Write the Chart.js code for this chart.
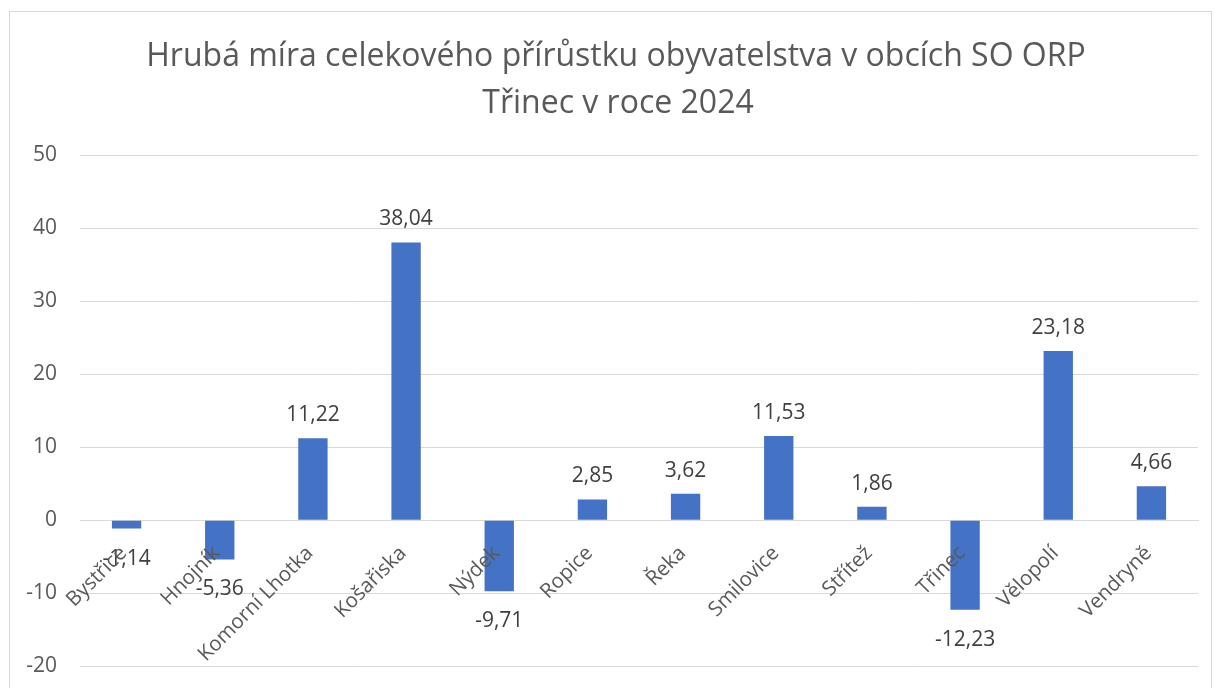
<!DOCTYPE html>
<html><head><meta charset="utf-8">
<script src="https://cdn.jsdelivr.net/npm/chart.js@4.4.1/dist/chart.umd.min.js"></script>
<style>
html,body{margin:0;padding:0;background:#fff;width:1215px;height:688px;overflow:hidden;}
#frame{position:absolute;left:9px;top:11px;width:1203px;height:700px;border:1px solid #d9d9d9;box-sizing:border-box;}
#wrap{position:absolute;left:0;top:0;width:1215px;height:688px;overflow:hidden;}
</style></head>
<body>
<div id="frame"></div>
<div id="wrap"><canvas id="c" width="1215" height="702"></canvas></div>
<script>
const titleLines = ["Hrubá míra celekového přírůstku obyvatelstva v obcích SO ORP", "Třinec v roce 2024"];
const categories = ["Bystřice", "Hnojník", "Komorní Lhotka", "Košařiska", "Nýdek", "Ropice", "Řeka", "Smilovice", "Střítež", "Třinec", "Vělopolí", "Vendryně"];
const values = [-1.14, -5.36, 11.22, 38.04, -9.71, 2.85, 3.62, 11.53, 1.86, -12.23, 23.18, 4.66];
const yTickValues = [-20, -10, 0, 10, 20, 30, 40, 50];

const FONT = "'Open Sans', 'Noto Sans', sans-serif";

const chartTitle = {
  id: 'chartTitle',
  afterDraw(chart) {
    const ctx = chart.ctx;
    ctx.save();
    ctx.font = "32px " + FONT;
    ctx.fillStyle = '#595959';
    ctx.textAlign = 'center';
    ctx.textBaseline = 'alphabetic';
    ctx.fillText(titleLines[0], 616, 66);
    ctx.fillText(titleLines[1], 618, 113);
    ctx.restore();
  }
};

const valueLabels = {
  id: 'valueLabels',
  afterDatasetsDraw(chart) {
    const ctx = chart.ctx;
    const meta = chart.getDatasetMeta(0);
    ctx.save();
    ctx.font = "21px " + FONT;
    ctx.fillStyle = '#404040';
    ctx.textAlign = 'center';
    ctx.textBaseline = 'alphabetic';
    meta.data.forEach((bar, i) => {
      const v = values[i];
      const txt = v.toFixed(2).replace('.', ',');
      if (v >= 0) ctx.fillText(txt, bar.x, bar.y - 17);
      else ctx.fillText(txt, bar.x, bar.y + 36);
    });
    ctx.restore();
  }
};

new Chart(document.getElementById('c'), {
  type: 'bar',
  data: {
    labels: categories,
    datasets: [{
      data: values,
      backgroundColor: '#4472C4',
      borderWidth: 0,
      barPercentage: 0.315,
      categoryPercentage: 1.0
    }]
  },
  options: {
    responsive: false,
    animation: false,
    devicePixelRatio: 1,
    layout: { padding: { left: 9, right: 17, top: 155, bottom: 8 } },
    plugins: {
      legend: { display: false },
      tooltip: { enabled: false },
      title: { display: false }
    },
    scales: {
      x: {
        position: { y: 0 },
        grid: { display: false },
        border: { display: true, color: '#d9d9d9', width: 1 },
        ticks: {
          z: 1,
          autoSkip: false,
          minRotation: 45,
          maxRotation: 45,
          padding: 13,
          labelOffset: -3,
          color: '#595959',
          font: { family: FONT, size: 20.5 }
        }
      },
      y: {
        min: -20,
        max: 50,
        afterFit(scale) { scale.width = 71; },
        afterBuildTicks(scale) { scale.ticks = yTickValues.map(v => ({ value: v })); },
        grid: { color: '#d9d9d9', lineWidth: 1, drawTicks: false },
        border: { display: false },
        ticks: {
          padding: 23,
          color: '#595959',
          font: { family: FONT, size: 21 },
          callback: (v) => String(v)
        }
      }
    }
  },
  plugins: [valueLabels, chartTitle]
});
</script>
</body></html>
